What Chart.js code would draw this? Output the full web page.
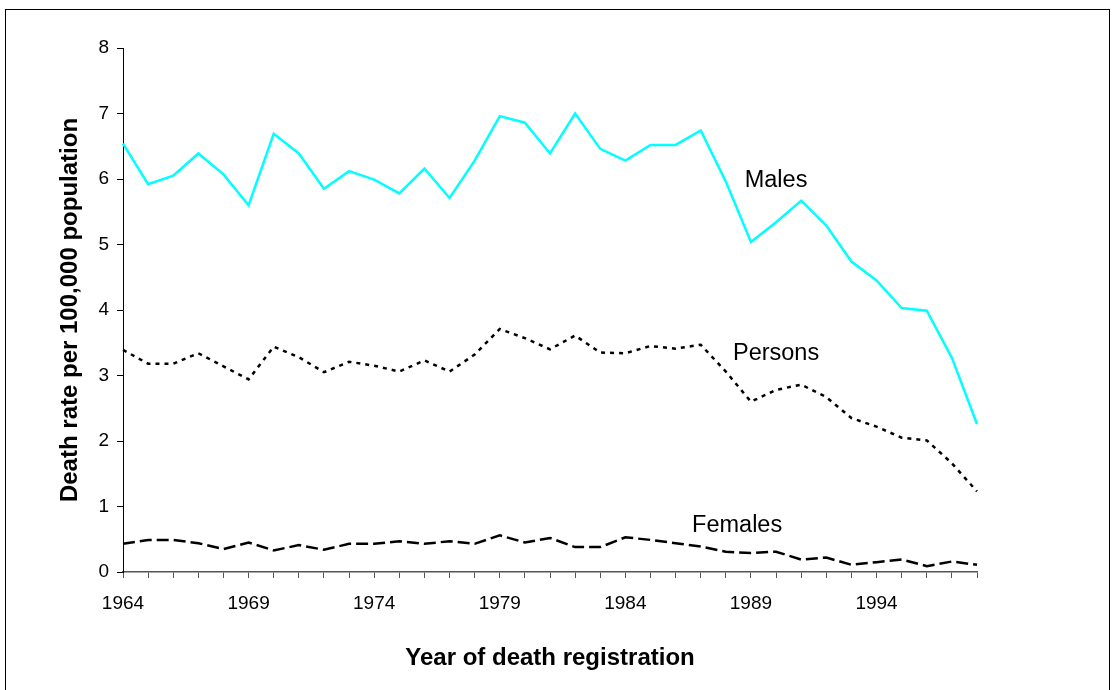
<!DOCTYPE html>
<html>
<head>
<meta charset="utf-8">
<script src="https://cdn.jsdelivr.net/npm/chart.js@4/dist/chart.umd.min.js"></script>
<style>
  html, body { margin: 0; padding: 0; background: #ffffff; }
  #wrap { position: relative; width: 1115px; height: 690px; }
  canvas { display: block; }
</style>
</head>
<body>
<div id="wrap"><canvas id="c" width="1115" height="690"></canvas></div>
<script>
// ---- Data ----
const years = [1964,1965,1966,1967,1968,1969,1970,1971,1972,1973,1974,1975,1976,1977,1978,1979,1980,1981,1982,1983,1984,1985,1986,1987,1988,1989,1990,1991,1992,1993,1994,1995,1996,1997,1998];
const males   = [6.54,5.92,6.05,6.39,6.07,5.60,6.69,6.39,5.85,6.12,5.99,5.78,6.16,5.71,6.28,6.96,6.86,6.39,7.00,6.46,6.28,6.52,6.52,6.74,5.96,5.04,5.34,5.67,5.29,4.74,4.45,4.03,3.99,3.27,2.26];
const persons = [3.39,3.18,3.18,3.34,3.14,2.94,3.44,3.28,3.05,3.21,3.15,3.06,3.23,3.06,3.32,3.71,3.57,3.40,3.61,3.35,3.34,3.45,3.41,3.47,3.06,2.60,2.78,2.86,2.67,2.35,2.22,2.05,2.01,1.66,1.23];
const females = [0.43,0.49,0.49,0.44,0.35,0.45,0.33,0.41,0.34,0.43,0.43,0.47,0.43,0.47,0.43,0.56,0.45,0.52,0.38,0.38,0.53,0.49,0.44,0.39,0.31,0.29,0.31,0.19,0.22,0.11,0.15,0.19,0.09,0.16,0.11];
const xTickLabels = ["1964","1969","1974","1979","1984","1989","1994"];
const seriesNames = ["Males","Persons","Females"];
const yTicks = [0,1,2,3,4,5,6,7,8];
const xTitle = "Year of death registration";
const yTitle = "Death rate per 100,000 population";

// label anchors (year, value) for the in-chart series labels
const seriesLabelYear = [1990, 1990, 1988.45];
const seriesLabelValue = [5.97, 3.33, 0.71];

const FONT = "'Liberation Sans', Arial, Helvetica, sans-serif";

const frame = {
  id: 'frame',
  beforeDraw(chart) {
    const ctx = chart.ctx;
    ctx.save();
    ctx.fillStyle = '#ffffff';
    ctx.fillRect(0, 0, chart.width, chart.height);
    ctx.restore();
  },
  afterDraw(chart) {
    const ctx = chart.ctx;
    ctx.save();
    ctx.strokeStyle = '#000000';
    ctx.lineWidth = 1;
    ctx.strokeRect(5.5, 9.5, 1104, 720);
    // series labels
    const xs = chart.scales.x, ys = chart.scales.y;
    ctx.fillStyle = '#000000';
    ctx.font = "23.5px " + FONT;
    ctx.textAlign = 'center';
    ctx.textBaseline = 'middle';
    seriesNames.forEach((n, i) => {
      const idx = seriesLabelYear[i] - years[0];
      const x = xs.getPixelForValue(idx);
      const y = ys.getPixelForValue(seriesLabelValue[i]);
      ctx.fillText(n, x, y);
    });
    ctx.restore();
  }
};

new Chart(document.getElementById('c'), {
  type: 'line',
  data: {
    labels: years.map(String),
    datasets: [
      { label: seriesNames[0], data: males, borderColor: '#00FFFF', borderWidth: 2.5, pointRadius: 0, tension: 0, fill: false },
      { label: seriesNames[1], data: persons, borderColor: '#000000', borderWidth: 2.5, borderDash: [4, 5], pointRadius: 0, tension: 0, fill: false },
      { label: seriesNames[2], data: females, borderColor: '#000000', borderWidth: 2.5, borderDash: [12, 5], pointRadius: 0, tension: 0, fill: false }
    ]
  },
  options: {
    responsive: false,
    animation: false,
    events: [],
    layout: { padding: { left: 0, top: 48, right: 138, bottom: 0 } },
    plugins: { legend: { display: false }, tooltip: { enabled: false } },
    scales: {
      x: {
        offset: false,
        grid: { drawOnChartArea: false, drawTicks: true, tickLength: 6, color: '#555555', lineWidth: 1 },
        border: { display: true, color: '#555555', width: 1.5 },
        ticks: {
          autoSkip: false, maxRotation: 0, minRotation: 0, padding: 14, color: '#000000',
          font: { family: FONT, size: 19 },
          callback: function(v, i) { const l = String(years[i]); return xTickLabels.includes(l) ? l : ''; }
        },
        title: { display: true, text: xTitle, color: '#000000', font: { family: FONT, size: 24, weight: 'bold' }, padding: { top: 0, bottom: 17 } },
        afterFit(scale) { scale.height = 118; }
      },
      y: {
        min: 0, max: 8,
        afterBuildTicks(scale) { scale.ticks = yTicks.map(v => ({ value: v })); },
        grid: { drawOnChartArea: false, drawTicks: true, tickLength: 6, color: '#000000', lineWidth: 1 },
        border: { display: true, color: '#000000', width: 1 },
        ticks: { padding: 8, color: '#000000', font: { family: FONT, size: 19 } },
        title: { display: true, text: yTitle, color: '#000000', font: { family: FONT, size: 24, weight: 'bold' }, padding: { top: 56, bottom: 0 } },
        afterFit(scale) { scale.width = 123; }
      }
    }
  },
  plugins: [frame]
});
</script>
</body>
</html>
